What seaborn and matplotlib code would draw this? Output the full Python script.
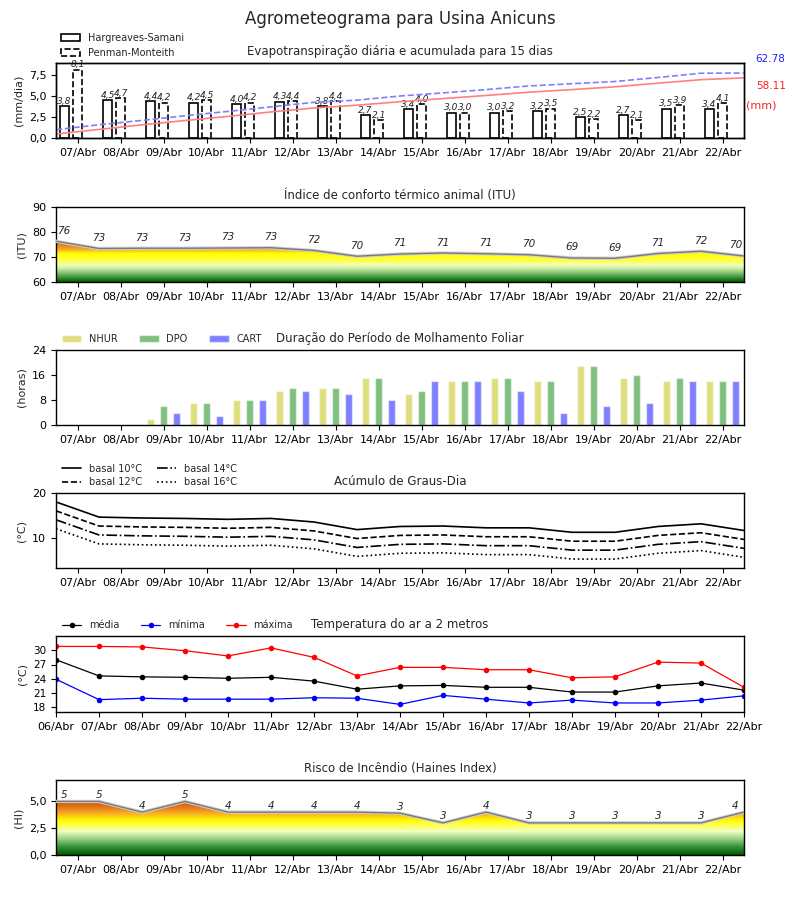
"""Agrometeograma: six stacked panels for one farm, 15-day forecast."""

import matplotlib
matplotlib.use("Agg")
import matplotlib.pyplot as plt
import numpy as np
import seaborn as sns
from matplotlib.colors import LinearSegmentedColormap, Normalize
from matplotlib.patches import PathPatch
from matplotlib.ticker import FuncFormatter

# ---- data -----------------------------------------------------------------
days = list(range(7, 23))                       # 07/Abr .. 22/Abr
day_labels = [f"{d:02d}/Abr" for d in days]
half_days = [d - 0.5 for d in range(7, 24)]     # 6.5 .. 22.5 (points between ticks)
temp_days = list(range(6, 23))                  # 06/Abr .. 22/Abr
temp_labels = [f"{d:02d}/Abr" for d in temp_days]

et_hs = [3.8, 4.5, 4.4, 4.2, 4.0, 4.3, 3.8, 2.7, 3.4, 3.0, 3.0, 3.2, 2.5, 2.7, 3.5, 3.4]
et_pm = [8.1, 4.7, 4.2, 4.5, 4.2, 4.4, 4.4, 2.1, 4.0, 3.0, 3.2, 3.5, 2.2, 2.1, 3.9, 4.1]
et_hs_acum = [3.8, 8.3, 12.7, 16.9, 20.9, 25.2, 29.0, 31.7, 35.1, 38.1, 41.1,
              44.3, 46.8, 49.5, 53.0, 56.4, 58.11]
et_pm_acum = [8.1, 12.8, 17.0, 21.5, 25.7, 30.1, 34.5, 36.6, 40.6, 43.6, 46.8,
              50.3, 52.5, 54.6, 58.5, 62.6, 62.78]

itu = [76.3, 73.4, 73.5, 73.5, 73.6, 73.7, 72.6, 70.3, 71.2, 71.6, 71.3,
       70.9, 69.6, 69.5, 71.4, 72.3, 70.4]

nhur = [0, 0, 2, 7, 8, 11, 12, 15, 10, 14, 15, 14, 19, 15, 14, 14]
dpo = [0, 0, 6, 7, 8, 12, 12, 15, 11, 14, 15, 14, 19, 16, 15, 14]
cart = [0, 0, 4, 3, 8, 11, 10, 8, 14, 14, 11, 4, 6, 7, 14, 14]

gd_10 = [18.0, 14.6, 14.4, 14.3, 14.1, 14.3, 13.5, 11.8, 12.5, 12.6, 12.2,
         12.2, 11.2, 11.2, 12.5, 13.1, 11.6]
gd_12 = [16.0, 12.6, 12.4, 12.3, 12.1, 12.3, 11.5, 9.8, 10.5, 10.6, 10.2,
         10.2, 9.2, 9.2, 10.5, 11.1, 9.6]
gd_14 = [14.0, 10.6, 10.4, 10.3, 10.1, 10.3, 9.5, 7.8, 8.5, 8.6, 8.2,
         8.2, 7.2, 7.2, 8.5, 9.1, 7.6]
gd_16 = [12.0, 8.6, 8.4, 8.3, 8.1, 8.3, 7.5, 5.8, 6.5, 6.6, 6.2,
         6.2, 5.2, 5.2, 6.5, 7.1, 5.6]

t_med = [28.0, 24.6, 24.4, 24.3, 24.1, 24.3, 23.5, 21.8, 22.5, 22.6, 22.2,
         22.2, 21.2, 21.2, 22.5, 23.1, 21.6]
t_min = [23.9, 19.6, 19.9, 19.7, 19.7, 19.7, 20.0, 19.9, 18.6, 20.5, 19.7,
         18.9, 19.5, 18.9, 18.9, 19.5, 20.4]
t_max = [30.8, 30.8, 30.7, 29.9, 28.8, 30.5, 28.5, 24.6, 26.4, 26.4, 25.9,
         25.9, 24.2, 24.4, 27.5, 27.3, 22.2]

haines = [5.0, 5.0, 4.0, 5.0, 4.0, 4.0, 4.0, 4.0, 3.9, 3.0, 4.0, 3.0, 3.0,
          3.0, 3.0, 3.0, 4.0]

# ---- style ----------------------------------------------------------------
sns.set_style("ticks")
plt.rcParams["font.family"] = ["DejaVu Sans"]
plt.rcParams["xtick.labelsize"] = 8
plt.rcParams["ytick.labelsize"] = 8
plt.rcParams["axes.edgecolor"] = "black"
plt.rcParams["xtick.color"] = "black"
plt.rcParams["ytick.color"] = "black"
plt.rcParams["axes.linewidth"] = 1.0

NARROW = dict(family=["Liberation Sans Narrow", "DejaVu Sans"])
comma_fmt = FuncFormatter(lambda v, _: f"{v:.1f}".replace(".", ","))


def _day_axis(ax):
    ax.set_xlim(6.5, 22.5)
    ax.set_xticks(days)
    ax.set_xticklabels(day_labels)


def _label_x(i, x):
    # first / last labels are pulled inside the frame
    if i == 0:
        return x + 0.18
    if i == len(half_days) - 1:
        return x - 0.2
    return x


def _gradient_fill(ax, x, y, ylo, yhi, stops):
    vals, cols = zip(*stops)
    cmap = LinearSegmentedColormap.from_list(
        "grad", [((v - vals[0]) / (vals[-1] - vals[0]), c) for v, c in stops]
    )
    grad = np.linspace(ylo, yhi, 400).reshape(-1, 1)
    im = ax.imshow(grad, extent=(x[0], x[-1], ylo, yhi), origin="lower",
                   aspect="auto", cmap=cmap,
                   norm=Normalize(vals[0], vals[-1]), zorder=1)
    poly = ax.fill_between(x, y, ylo, facecolor="none", edgecolor="none")
    clip = PathPatch(poly.get_paths()[0], transform=ax.transData,
                     facecolor="none", edgecolor="none")
    ax.add_patch(clip)
    im.set_clip_path(clip)
    ax.plot(x, y, color="#d0d0d0", lw=2.4, zorder=3)
    ax.plot(x, y, color="#7a7a7a", lw=1.0, zorder=4)


fig = plt.figure(figsize=(8, 9), dpi=100)
fig.suptitle("Agrometeograma para Usina Anicuns", fontsize=12, y=0.989)

panel_px = [(63, 138), (207, 282), (350, 425), (493, 568), (636, 712), (780, 855)]
axes = [fig.add_axes([56 / 800, 1 - b / 900, 688 / 800, (b - t) / 900])
        for t, b in panel_px]
ax1, ax2, ax3, ax4, ax5, ax6 = axes

# ---- 1: evapotranspiration ------------------------------------------------
ax1.bar(np.array(days) - 0.3, et_hs, width=0.2, facecolor="white",
        edgecolor="black", lw=1.2, label="Hargreaves-Samani", zorder=2)
ax1.bar(days, et_pm, width=0.2, facecolor="white", edgecolor="black",
        lw=1.2, linestyle="--", label="Penman-Monteith", zorder=2)
for d, v in zip(days, et_hs):
    ax1.text(d - 0.3, v + 0.05, f"{v:.1f}".replace(".", ","), ha="center",
             va="bottom", fontsize=6.5, style="italic")
for d, v in zip(days, et_pm):
    ax1.text(d + 0.02, v + 0.05, f"{v:.1f}".replace(".", ","), ha="center",
             va="bottom", fontsize=6.5, style="italic")
ax1.set_ylim(0, 8.91)
ax1.set_yticks([0, 2.5, 5, 7.5])
ax1.yaxis.set_major_formatter(comma_fmt)
ax1.set_ylabel("(mm/dia)", fontsize=8)
_day_axis(ax1)
ax1.set_title("Evapotranspiração diária e acumulada para 15 dias", fontsize=8.5)
ax1.legend(loc="lower left", bbox_to_anchor=(0, 1.0), frameon=False,
           fontsize=7, handlelength=2, borderaxespad=0.1)

ax1b = ax1.twinx()
sns.lineplot(x=half_days, y=et_hs_acum, ax=ax1b, color="#ff8080", lw=1.2)
sns.lineplot(x=half_days, y=et_pm_acum, ax=ax1b, color="#8080ff", lw=1.2,
             linestyle="--")
ax1b.set_ylim(0, 72.5)
ax1b.set_yticks([])
ax1b.set_ylabel("")
ax1b.set_xlim(6.5, 22.5)
ax1.text(1.017, 1.053, f"{et_pm_acum[-1]:.2f}", color="#2020ff", fontsize=7.5,
         ha="left", va="center", transform=ax1.transAxes)
ax1.text(1.017, 0.693, f"{et_hs_acum[-1]:.2f}", color="#ff2020", fontsize=7.5,
         ha="left", va="center", transform=ax1.transAxes)
ax1.text(1.003, 0.44, "(mm)", color="#ff2020", fontsize=8,
         ha="left", va="center", transform=ax1.transAxes)

# ---- 2: ITU -----------------------------------------------------------------
itu_stops = [(60, "#005a00"), (61.5, "#2f8a2f"), (63.5, "#80c070"),
             (65.5, "#d0f0a8"), (67, "#f4ffb8"), (68.5, "#ffff40"),
             (71.5, "#ffff00"), (72.2, "#ffd21a"), (73.1, "#f2ac28"),
             (75, "#e47a1e"), (76.5, "#d45500"), (80, "#c03a00")]
_gradient_fill(ax2, half_days, itu, 60, 90, itu_stops)
for i, (x, v) in enumerate(zip(half_days, itu)):
    ax2.text(_label_x(i, x), v + 2.2, f"{int(v)}", ha="center", va="bottom",
             fontsize=7.5, style="italic", **NARROW)
ax2.set_ylim(60, 90)
ax2.set_yticks([60, 70, 80, 90])
ax2.set_ylabel("(ITU)", fontsize=8, **NARROW)
_day_axis(ax2)
ax2.set_title("Índice de conforto térmico animal (ITU)", fontsize=8.5, **NARROW)

# ---- 3: leaf wetness --------------------------------------------------------
ax3.bar(np.array(days) - 0.3, nhur, width=0.15, color="y", alpha=0.5, label="NHUR")
ax3.bar(days, dpo, width=0.15, color="g", alpha=0.5, label="DPO")
ax3.bar(np.array(days) + 0.3, cart, width=0.15, color="b", alpha=0.5, label="CART")
ax3.set_ylim(0, 24)
ax3.set_yticks([0, 8, 16, 24])
ax3.set_ylabel("(horas)", fontsize=8)
_day_axis(ax3)
ax3.set_title("Duração do Período de Molhamento Foliar", fontsize=8.5)
ax3.legend(loc="lower left", bbox_to_anchor=(0, 1.0), frameon=False, ncol=3,
           fontsize=7, handlelength=2, columnspacing=2.2, borderaxespad=0.2)

# ---- 4: degree days ---------------------------------------------------------
for vals, ls, lab in [(gd_10, "-", "basal 10°C"), (gd_12, "--", "basal 12°C"),
                      (gd_14, "-.", "basal 14°C"), (gd_16, ":", "basal 16°C")]:
    sns.lineplot(x=half_days, y=vals, ax=ax4, color="black", lw=1.2,
                 linestyle=ls, label=lab, legend=False)
ax4.set_ylim(3.2, 20)
ax4.set_yticks([10, 20])
ax4.set_ylabel("(°C)", fontsize=8)
_day_axis(ax4)
ax4.set_title("Acúmulo de Graus-Dia", fontsize=8.5, **NARROW)
ax4.legend(loc="lower left", bbox_to_anchor=(0, 1.0), frameon=False, ncol=2,
           prop=dict(size=7, **NARROW), handlelength=2, columnspacing=1.5,
           borderaxespad=0.2, labelspacing=0.35)

# ---- 5: air temperature -----------------------------------------------------
for vals, col, lab in [(t_med, "black", "média"), (t_min, "blue", "mínima"),
                       (t_max, "red", "máxima")]:
    sns.lineplot(x=temp_days, y=vals, ax=ax5, color=col, lw=0.9, marker="o",
                 markersize=4, markeredgecolor=col, markeredgewidth=0,
                 label=lab, legend=False)
ax5.set_xlim(6, 22)
ax5.set_xticks(temp_days)
ax5.set_xticklabels(temp_labels)
ax5.set_ylim(17, 33)
ax5.set_yticks([18, 21, 24, 27, 30])
ax5.set_yticklabels([str(t) for t in [18, 21, 24, 27, 30]], fontsize=7.5, **NARROW)
ax5.set_ylabel("(°C)", fontsize=8, **NARROW)
ax5.set_title("Temperatura do ar a 2 metros", fontsize=8.5)
ax5.legend(loc="lower left", bbox_to_anchor=(0, 1.0), frameon=False, ncol=3,
           fontsize=7, handlelength=2, columnspacing=2.2, borderaxespad=0.2)

# ---- 6: Haines index --------------------------------------------------------
hi_stops = [(0, "#005a00"), (0.8, "#3a963a"), (1.6, "#a8d890"),
            (2.2, "#efffc2"), (2.7, "#ffff60"), (3.2, "#ffff00"),
            (3.6, "#ffcf10"), (4.0, "#f4a423"), (4.5, "#e2741f"),
            (5.0, "#d45500"), (7.0, "#c03a00")]
_gradient_fill(ax6, half_days, haines, 0, 7, hi_stops)
for i, (x, v) in enumerate(zip(half_days, haines)):
    ax6.text(_label_x(i, x), v + 0.15, f"{int(v)}", ha="center", va="bottom",
             fontsize=7.5, style="italic")
ax6.set_ylim(0, 7)
ax6.set_yticks([0, 2.5, 5])
ax6.yaxis.set_major_formatter(comma_fmt)
ax6.set_ylabel("(HI)", fontsize=8, **NARROW)
_day_axis(ax6)
ax6.set_title("Risco de Incêndio (Haines Index)", fontsize=8.5)

for ax in axes:
    ax.set_xlabel("")
    ax.tick_params(direction="out", length=3.5, width=0.8)

fig.savefig("out.png", dpi=100)
